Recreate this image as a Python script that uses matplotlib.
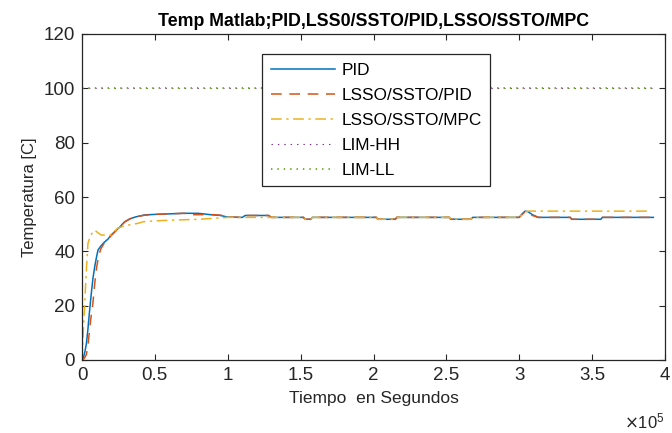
import matplotlib
matplotlib.use("Agg")
import matplotlib.pyplot as plt
from matplotlib.ticker import FuncFormatter

plt.rcParams['font.family'] = ['Liberation Sans', 'DejaVu Sans']

# ---- data (time in seconds, temperature in C) ----
t_pid = [0, 1000, 2000, 3000, 4000, 5000, 6400, 7500, 8700, 10000, 11000, 13000, 15000, 17800,
         20000, 23000, 26000, 29300, 33000, 37000, 43000, 50000, 60000, 70000, 79600, 88000,
         95000, 100000, 110000, 112000, 128000, 130000, 152000, 153000, 157000, 158000,
         202000, 203000, 215000, 216000, 252000, 253000, 267000, 268000, 300000, 302000,
         304000, 306000, 309000, 313000, 335000, 336000, 356000, 357000, 392000]
T_pid = [0, 1, 3, 6, 11, 17, 24.6, 30, 34.3, 38, 40.5, 42, 43.2, 44.5, 46, 47.5, 49, 50.9,
         52, 52.7, 53.4, 53.6, 53.8, 54, 54, 53.5, 53.2, 52.6, 52.5, 53.2, 53.2, 52.5, 52.5,
         51.8, 51.8, 52.5, 52.5, 51.8, 51.8, 52.5, 52.5, 51.8, 51.8, 52.5, 52.5, 53.8, 54.8,
         54.6, 53.5, 52.5, 52.5, 51.8, 51.8, 52.5, 52.5]

t_lsso_pid = [0, 1500, 3000, 4000, 5000, 6000, 7500, 8700, 10000, 11500, 13000, 15000, 17800,
              20000, 23000, 26000, 29300, 33000, 37000, 43000, 50000, 60000, 70000, 76000,
              90000, 97000, 100000, 110000, 112000, 128000, 130000, 152000, 153000, 157000,
              158000, 202000, 203000, 215000, 216000, 252000, 253000, 267000, 268000, 300000,
              302000, 304000, 306000, 309000, 313000, 335000, 336000, 356000, 357000, 392000]
T_lsso_pid = [0, 0.5, 2, 5, 10, 15, 21, 28, 34, 38.5, 41, 42.8, 44.3, 45.8, 47.4, 49, 50.8, 52,
              52.7, 53.3, 53.6, 53.8, 54, 53.5, 53.5, 53.2, 52.6, 52.5, 53.2, 53.2, 52.5, 52.5,
              51.8, 51.8, 52.5, 52.5, 51.8, 51.8, 52.5, 52.5, 51.8, 51.8, 52.5, 52.5, 53.6,
              54.5, 54.3, 53.2, 52.5, 52.5, 51.8, 51.8, 52.5, 52.5]

t_lsso_mpc = [0, 500, 1000, 1800, 2500, 3300, 4100, 6000, 8700, 10500, 13200, 16000, 20000,
              22500, 24700, 30000, 38400, 42000, 50000, 62500, 80000, 92000, 100000, 152000,
              153000, 157000, 158000, 202000, 203000, 215000, 216000, 252000, 253000, 267000,
              268000, 300000, 302000, 304000, 306000, 388000]
T_lsso_mpc = [0, 6, 12, 19.6, 28, 36, 43, 46, 47.8, 47, 46, 46, 46, 47.5, 48.6, 49.5, 50.3,
              50.9, 51.2, 51.5, 51.8, 52.2, 52.5, 52.5, 51.8, 51.8, 52.5, 52.5, 51.8, 51.8,
              52.5, 52.5, 51.8, 51.8, 52.5, 52.5, 53.5, 54.5, 54.8, 54.8]

t_lim = [0, 392000]
lim_hh = [100, 100]
lim_ll = [100, 100]

xticks = [0, 0.5e5, 1e5, 1.5e5, 2e5, 2.5e5, 3e5, 3.5e5, 4e5]
yticks = [0, 20, 40, 60, 80, 100, 120]

# ---- figure ----
fig = plt.figure(figsize=(6.72, 4.33), dpi=100)
ax = fig.add_axes([82/672, 1-360/433, (665-82)/672, (360-34)/433])

c_blue = '#0072BD'
c_orange = '#D95319'
c_yellow = '#EDB120'
c_purple = '#7E2F8E'
c_green = '#77AC30'

ax.plot(t_pid, T_pid, color=c_blue, lw=1.1, label='PID')
ax.plot(t_lsso_pid, T_lsso_pid, color=c_orange, lw=1.1, ls=(0, (7, 5)),
        label='LSSO/SSTO/PID')
ax.plot(t_lsso_mpc, T_lsso_mpc, color=c_yellow, lw=1.1, ls=(0, (7, 3, 1.5, 3)),
        label='LSSO/SSTO/MPC')
ax.plot(t_lim, lim_hh, color=c_purple, lw=0.8, ls=(0, (1.25, 4.5)), label='LIM-HH')
ax.plot(t_lim, lim_ll, color=c_green, lw=1.4, ls=(0, (0.714, 2.57)), label='LIM-LL')

ax.set_xlim(0, 4e5)
ax.set_ylim(0, 120)
ax.set_xticks(xticks)
ax.set_yticks(yticks)
ax.xaxis.set_major_formatter(FuncFormatter(lambda v, p: ('%g' % (v / 1e5))))
ax.tick_params(direction='in', length=4, width=0.8, top=True, right=True,
               labelsize=13.5, colors='#262626', pad=5)
for s in ax.spines.values():
    s.set_color('#262626')
    s.set_linewidth(0.9)

ax.set_title('Temp Matlab;PID,LSS0/SSTO/PID,LSSO/SSTO/MPC', fontsize=12.8,
             fontweight='bold', color='black', pad=6)
ax.set_xlabel('Tiempo  en Segundos', fontsize=12.5, color='#262626', labelpad=5)
ax.set_ylabel('Temperatura [C]', fontsize=12, color='#262626', labelpad=5)

fig.text(665/672, 1-428/433, r'$\times\mathregular{10^{5}}$', ha='right', va='baseline',
         fontsize=12, color='#262626')

leg = ax.legend(loc='upper left', bbox_to_anchor=(262/672, 1-54/433),
                bbox_transform=fig.transFigure, fontsize=12.4, frameon=True, fancybox=False,
                handlelength=3.75, handletextpad=0.35, labelspacing=0.58, borderpad=0.5,
                borderaxespad=0)
leg.get_frame().set_edgecolor('#262626')
leg.get_frame().set_linewidth(0.9)
leg.get_frame().set_alpha(1)

fig.savefig('out.png', dpi=100)
